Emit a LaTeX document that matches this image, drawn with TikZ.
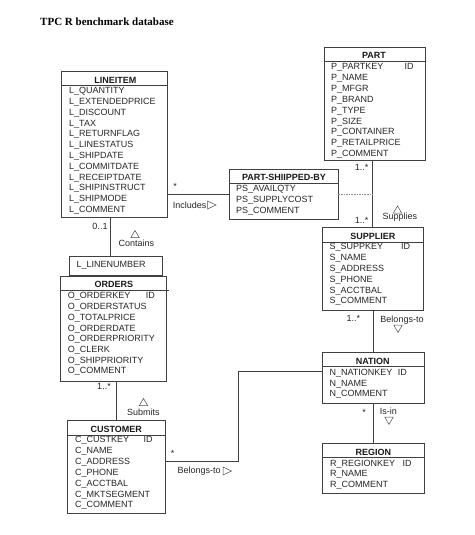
\documentclass[tikz,border=0pt]{standalone}
\usepackage{fontspec}
\setmainfont{Liberation Sans}
\newfontfamily\serifti{Liberation Serif}
\tikzset{
  ent/.style={draw=black!75, line width=0.7pt, fill=white, inner sep=0pt, outer sep=0pt, anchor=north west},
  hline/.style={draw=black!75, line width=0.7pt},
  row/.style={font=\fontsize{9}{10}\selectfont, inner sep=0pt, anchor=base west, text=black!85},
  etitle/.style={font=\fontsize{9}{10}\selectfont\bfseries, inner sep=0pt, anchor=base, text=black!90},
  lbl/.style={font=\fontsize{9}{10}\selectfont, inner sep=0pt, anchor=base, text=black!85},
  conn/.style={draw=black!75, line width=0.7pt},
  assoc/.style={draw=black!45, line width=0.7pt, dash pattern=on 1.6pt off 1pt},
  tri/.style={draw=black!70, line width=0.5pt},
}
% rows: #1 name prefix, #2 x, #3 first centre y, #4 spacing, #5 list
\newcommand\entrows[5]{%
  \foreach \t [count=\i from 0] in {#5}
    \node[row, name=#1-\i] at (#2, #3+\i*#4+3.2) {\t};}
\newcommand\triup[2]{\draw[tri] (#1-4.2,#2+3.6) -- (#1+4.2,#2+3.6) -- (#1,#2-3.6) -- cycle;}
\newcommand\tridown[2]{\draw[tri] (#1-4.2,#2-3.6) -- (#1+4.2,#2-3.6) -- (#1,#2+3.6) -- cycle;}
\newcommand\triright[2]{\draw[tri] (#1-4,#2-4) -- (#1+4.5,#2) -- (#1-4,#2+4) -- cycle;}
\begin{document}
\begin{tikzpicture}[x=1pt, y=-1pt]
\useasboundingbox[fill=white] (0,0) rectangle (474,535);

\node[font=\serifti\fontsize{11}{13}\selectfont\bfseries, inner sep=0pt, anchor=base west] (title) at (40,26) {TPC R benchmark database};

% LINEITEM
\node[ent, minimum width=105.3pt, minimum height=146pt] (lineitem) at (61.7,71.7) {};
\draw[hline] (61.7,85) -- (167,85);
\node[etitle] (lineitem-t) at (115.3,83.2) {LINEITEM};
\entrows{li}{69}{90.5}{10.8}{L\_QUANTITY,L\_EXTENDEDPRICE,L\_DISCOUNT,L\_TAX,L\_RETURNFLAG,L\_LINESTATUS,L\_SHIPDATE,L\_COMMITDATE,L\_RECEIPTDATE,L\_SHIPINSTRUCT,L\_SHIPMODE,L\_COMMENT}

% PART
\node[ent, minimum width=101pt, minimum height=112.7pt] (part) at (324,47.3) {};
\draw[hline] (324,61) -- (425,61);
\node[etitle] (part-t) at (374,58.9) {PART};
\entrows{pa}{331}{66.7}{10.83}{P\_PARTKEY,P\_NAME,P\_MFGR,P\_BRAND,P\_TYPE,P\_SIZE,P\_CONTAINER,P\_RETAILPRICE,P\_COMMENT}
\node[row] (pa-id) at (404.3,69.9) {ID};

% PART-SHIIPPED-BY
\node[ent, minimum width=109.3pt, minimum height=49.7pt] (psb) at (229,169.3) {};
\draw[hline] (229,183.3) -- (338.3,183.3);
\node[etitle] (psb-t) at (284,180.2) {PART-SHIIPPED-BY};
\entrows{ps}{236}{188}{11}{PS\_AVAILQTY,PS\_SUPPLYCOST,PS\_COMMENT}

% SUPPLIER
\node[ent, minimum width=101pt, minimum height=83.4pt] (supplier) at (322.3,227.3) {};
\draw[hline] (322.3,242) -- (423.3,242);
\node[etitle] (supplier-t) at (372.8,239.2) {SUPPLIER};
\entrows{su}{329.3}{246.7}{10.8}{S\_SUPPKEY,S\_NAME,S\_ADDRESS,S\_PHONE,S\_ACCTBAL,S\_COMMENT}
\node[row] (su-id) at (401,249.9) {ID};

% NATION
\node[ent, minimum width=102pt, minimum height=50.6pt] (nation) at (322.3,352.7) {};
\draw[hline] (322.3,366.7) -- (424.3,366.7);
\node[etitle] (nation-t) at (372.8,364.5) {NATION};
\entrows{na}{329.3}{372.7}{10.3}{N\_NATIONKEY,N\_NAME,N\_COMMENT}
\node[row] (na-id) at (397.7,375.9) {ID};

% REGION
\node[ent, minimum width=102pt, minimum height=50.4pt] (region) at (322.3,443.3) {};
\draw[hline] (322.3,457.3) -- (424.3,457.3);
\node[etitle] (region-t) at (373.3,455.2) {REGION};
\entrows{re}{330}{463.3}{10.35}{R\_REGIONKEY,R\_NAME,R\_COMMENT}
\node[row] (re-id) at (402.3,466.5) {ID};

% L_LINENUMBER
\node[ent, minimum width=92.7pt, minimum height=19pt] (lln) at (69.3,256.7) {};
\node[row] (lln-t) at (76.5,267.9) {L\_LINENUMBER};

% ORDERS
\node[ent, minimum width=105.3pt, minimum height=104.7pt] (orders) at (60.7,276.3) {};
\draw[hline] (60.7,290) -- (169,290);
\node[etitle] (orders-t) at (113.8,287.9) {ORDERS};
\entrows{or}{67.7}{295.7}{10.7}{O\_ORDERKEY,O\_ORDERSTATUS,O\_TOTALPRICE,O\_ORDERDATE,O\_ORDERPRIORITY,O\_CLERK,O\_SHIPPRIORITY,O\_COMMENT}
\node[row] (or-id) at (145.7,298.9) {ID};

% CUSTOMER
\node[ent, minimum width=98.4pt, minimum height=93pt] (customer) at (67.3,420.3) {};
\draw[hline] (67.3,435) -- (165.7,435);
\node[etitle] (customer-t) at (116.3,432.2) {CUSTOMER};
\entrows{cu}{75}{439.7}{10.83}{C\_CUSTKEY,C\_NAME,C\_ADDRESS,C\_PHONE,C\_ACCTBAL,C\_MKTSEGMENT,C\_COMMENT}
\node[row] (cu-id) at (143.3,442.9) {ID};

% connectors
\draw[conn] (psb.west) -- (psb.west -| lineitem.east);
\draw[conn] (part.south -| supplier.north) -- (supplier.north);
\draw[assoc] (psb.east) -- (psb.east -| supplier.north);
\draw[conn] ([xshift=-4.9pt]lln.north) -- ([xshift=-4.9pt]lln.north |- lineitem.south);
\draw[conn] (customer.north) -- (customer.north |- orders.south);
\draw[conn] (nation.north) -- (nation.north |- supplier.south);
\draw[conn] (region.north) -- (region.north |- nation.south);
\coordinate (bendA) at (238.3,371);
\coordinate (bendB) at (238.3,461.7);
\draw[conn] (nation.west |- bendA) -- (bendA) -- (bendB) -- (bendB -| customer.east);

% connector labels
\node[lbl] (m1) at (175,189) {*};
\node[lbl, anchor=base west] (inc) at (172.7,208.2) {Includes};
\triright{211.5}{205}
\node[lbl] (m2) at (361.7,170.9) {1..*};
\node[lbl] (m3) at (361.7,223.2) {1..*};
\triup{397.5}{209.5}
\node[lbl] (sup) at (399.8,219.9) {Supplies};
\node[lbl] (m4) at (100,229.9) {0..1};
\triup{135}{234}
\node[lbl] (con) at (136.3,246.5) {Contains};
\node[lbl] (m5) at (104,389.9) {1..*};
\triup{143.5}{402}
\node[lbl] (sub) at (143.3,415.2) {Submits};
\node[lbl] (m6) at (172.7,456) {*};
\node[lbl, anchor=base west] (bel1) at (177.3,473.9) {Belongs-to};
\triright{227}{471}
\node[lbl] (m7) at (353.3,321.9) {1..*};
\node[lbl] (bel2) at (402,322.2) {Belongs-to};
\tridown{398}{328.8}
\node[lbl] (m8) at (364,415) {*};
\node[lbl] (isin) at (388.3,414.9) {Is-in};
\tridown{389}{420.8}
\end{tikzpicture}
\end{document}
